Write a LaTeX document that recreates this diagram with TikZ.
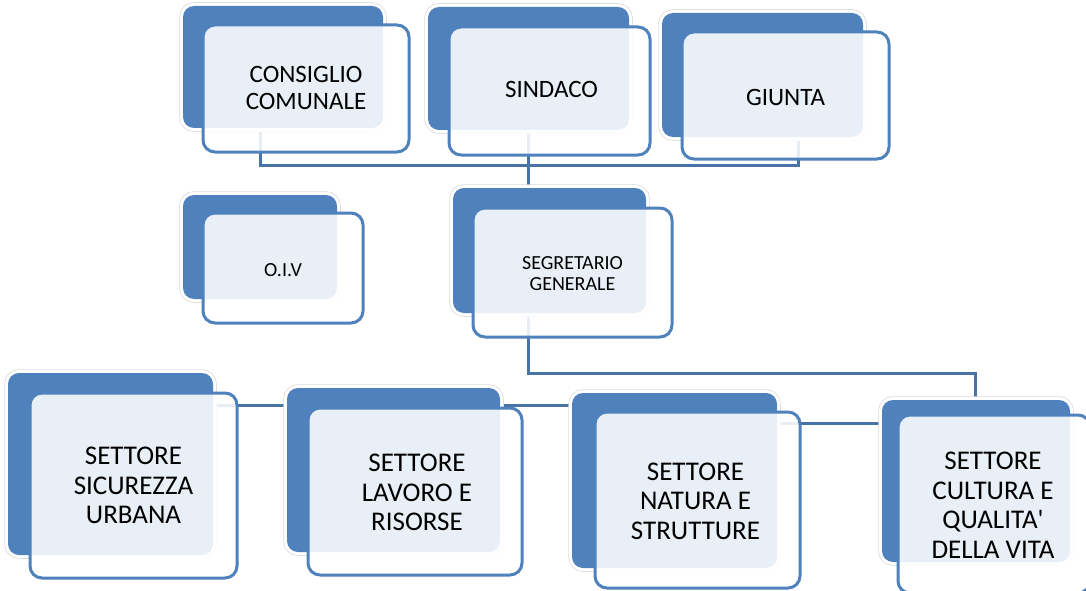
\documentclass[tikz,border=0pt]{standalone}
\usepackage{fontspec}
\setmainfont{Carlito}
\newfontfamily\plaincarlito{Carlito}
\usetikzlibrary{fit}
\definecolor{boxblue}{HTML}{4F81BD}
\definecolor{connblue}{HTML}{4773A9}
\tikzset{
  backbox/.style={rectangle, rounded corners=11pt, inner sep=0pt, outer sep=0pt,
    fill=boxblue, preaction={draw=white, line width=6pt, preaction={draw=black!14, line width=7.5pt}}},
  frontbox/.style={rectangle, rounded corners=12pt, inner sep=0pt, outer sep=0pt,
    fill=white, fill opacity=0.88, draw=boxblue, draw opacity=1, line width=3pt},
  lbl/.style={align=center, text=black, inner sep=0pt},
  conn/.style={draw=connblue, line width=3pt},
  topfont/.style={font=\fontsize{25}{27}\selectfont},
  midfont/.style={font=\fontsize{20}{21}\selectfont},
  botfont/.style={font=\fontsize{27}{29.5}\selectfont},
}
\begin{document}
\begin{tikzpicture}[x=1pt,y=-1pt]
\useasboundingbox (0,0) rectangle (1086,591);
\fill[white] (0,0) rectangle (1086,591);
\clip (0,0) rectangle (1086,591);

% positions of the front boxes (for connectors)
\node[fit={(203,25) (409,152)}, inner sep=0pt] (consP) {};
\node[fit={(449,27) (650,155)}, inner sep=0pt] (sindP) {};
\node[fit={(682,32) (889,159)}, inner sep=0pt] (giuP) {};
\node[fit={(473,208) (672,337)}, inner sep=0pt] (segP) {};
\node[fit={(30,393) (237,578)}, inner sep=0pt] (sicP) {};
\node[fit={(595,412) (800,588)}, inner sep=0pt] (natP) {};
\node[fit={(898,415) (1090,593)}, inner sep=0pt] (culP) {};

\coordinate (tA) at (260,165);
\coordinate (tB) at (528,165);
\coordinate (tC) at (798,165);
\coordinate (mA) at (528,373);
\coordinate (mB) at (975,373);
\coordinate (bA) at (0,405);
\coordinate (bB) at (0,423);

% connectors (behind the boxes)
\draw[conn] (consP.center -| tA) -- (tA) -- (tC) -- (giuP.center -| tC);
\draw[conn] (sindP.center -| tB) -- (segP.center -| tB);
\draw[conn] (segP.center -| mA) -- (mA) -- (mB) -- (culP.center -| mB);
\draw[conn] (sicP.center |- bA) -- (natP.center |- bA);
\draw[conn] (natP.center |- bB) -- (culP.center |- bB);

% CONSIGLIO COMUNALE
\node[backbox, fit={(183,6) (383,128)}] (consBack) {};
\node[frontbox, fit={(203,25) (409,152)}] (cons) {};
\node[lbl, topfont] (consT) at ([yshift=1pt]cons.center) {CONSIGLIO\\COMUNALE};
% SINDACO
\node[backbox, fit={(428,7) (629,130)}] (sindBack) {};
\node[frontbox, fit={(449,27) (650,155)}] (sind) {};
\node[lbl, topfont] (sindT) at ([xshift=2pt,yshift=2pt]sind.center) {SINDACO};
% GIUNTA
\node[backbox, fit={(662,13) (863,137)}] (giuBack) {};
\node[frontbox, fit={(682,32) (889,159)}] (giu) {};
\node[lbl, topfont] (giuT) at ([yshift=-2pt]giu.center) {GIUNTA};
% O.I.V
\node[backbox, fit={(183,195) (337,299)}] (oivBack) {};
\node[frontbox, fit={(203,213) (363,323)}] (oiv) {};
\node[lbl, midfont] (oivT) at ([yshift=-2pt]oiv.center) {O.I.V};
% SEGRETARIO GENERALE
\node[backbox, fit={(453,188) (646,313)}] (segBack) {};
\node[frontbox, fit={(473,208) (672,337)}] (seg) {};
\node[lbl, midfont] (segT) at ([yshift=-1pt]seg.center) {SEGRETARIO\\GENERALE};
% SETTORE SICUREZZA URBANA
\node[backbox, fit={(8,373) (213,555)}] (sicBack) {};
\node[frontbox, fit={(30,393) (237,578)}] (sic) {};
\node[lbl, botfont] (sicT) at (sic.center) {SETTORE\\SICUREZZA\\URBANA};
% SETTORE LAVORO E RISORSE
\node[backbox, fit={(287,388) (500,552)}] (lavBack) {};
\node[frontbox, fit={(308,408) (522,575)}] (lav) {};
\node[lbl, botfont] (lavT) at ([xshift=2pt,yshift=-1pt]lav.center) {SETTORE\\LAVORO E\\RISORSE};
% SETTORE NATURA E STRUTTURE
\node[backbox, fit={(572,393) (777,568)}] (natBack) {};
\node[frontbox, fit={(595,412) (800,588)}] (nat) {};
\node[lbl, botfont] (natT) at ([xshift=-2pt,yshift=-1pt]nat.center) {SETTORE\\NATURA E\\STRUTTURE};
% SETTORE CULTURA E QUALITA' DELLA VITA
\node[backbox, fit={(882,400) (1070,562)}] (culBack) {};
\node[frontbox, fit={(898,415) (1090,593)}] (cul) {};
\node[lbl, botfont] (culT) at ([xshift=-1pt,yshift=-1pt]cul.center) {SETTORE\\CULTURA E\\QUALITA{\plaincarlito '}\\DELLA VITA};
\end{tikzpicture}
\end{document}
